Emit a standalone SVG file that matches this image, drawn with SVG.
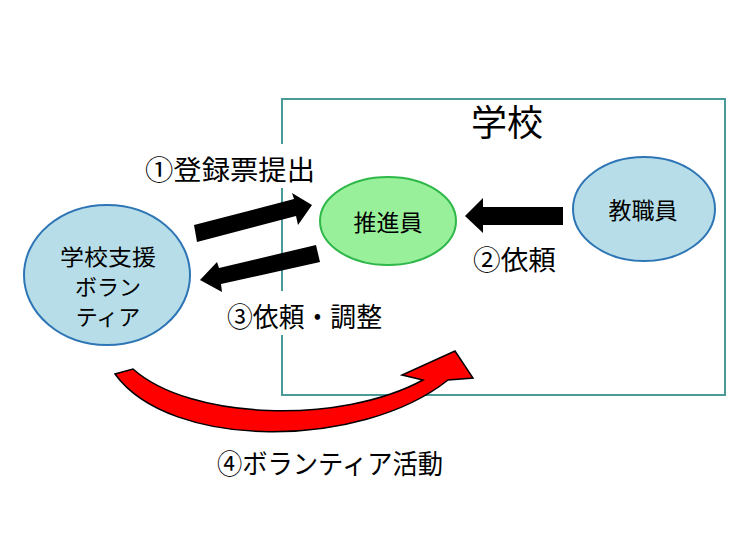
<svg xmlns="http://www.w3.org/2000/svg" width="740" height="555" viewBox="0 0 740 555">
<style>
text{font-family:"Noto Sans CJK JP","Noto Sans",sans-serif;fill:#000;}
.lbl{font-size:27px;}
.node{font-size:23px;text-anchor:middle;}
.vol{font-size:22px;text-anchor:middle;}
.blue{fill:#b7dee8;stroke:#2e75b6;stroke-width:2;}
.arr{fill:#000;}
</style>
<rect width="740" height="555" fill="#fff"/>
<g id="school">
<rect x="282" y="99" width="443" height="296" fill="none" stroke="#4a9a9a" stroke-width="2"/>
<text x="507" y="136" font-size="36" text-anchor="middle">学校</text>
</g>
<g id="label1">
<rect x="140" y="144" width="182" height="44" fill="#fff"/>
<text class="lbl" x="145" y="180" textLength="170" lengthAdjust="spacingAndGlyphs">①登録票提出</text>
</g>
<g id="label3">
<rect x="222" y="291" width="168" height="44" fill="#fff"/>
<text class="lbl" x="227" y="327" textLength="155" lengthAdjust="spacingAndGlyphs">③依頼・調整</text>
</g>
<g id="label2">
<text class="lbl" x="473" y="270" textLength="83" lengthAdjust="spacingAndGlyphs">②依頼</text>
</g>
<g id="label4">
<text class="lbl" x="217" y="474" textLength="226" lengthAdjust="spacingAndGlyphs">④ボランティア活動</text>
</g>
<g id="volunteer">
<ellipse class="blue" cx="107" cy="275" rx="83" ry="70"/>
<text class="vol" x="108" y="265" textLength="96" lengthAdjust="spacingAndGlyphs">学校支援</text>
<text class="vol" x="108" y="295">ボラン</text>
<text class="vol" x="108" y="325">ティア</text>
</g>
<g id="suishin">
<ellipse cx="388" cy="221" rx="68" ry="44" fill="#99f09a" stroke="#2eb84a" stroke-width="2"/>
<text class="node" x="388" y="231">推進員</text>
</g>
<g id="staff">
<ellipse class="blue" cx="644" cy="209" rx="71" ry="52"/>
<text class="node" x="643" y="219">教職員</text>
</g>
<g id="connectors">
<polygon class="arr" points="194,225 294,199 292,193 312,205 298,225 296,216 197,242"/>
<polygon class="arr" points="316,245 219,268 217,262 200,280 222,292 221,284 320,262"/>
<polygon class="arr" points="563,207 483,207 483,198 465,216 483,233 483,225 563,225"/>
<path d="M133,369 C190,420 340,425 423,380 L402,375 L455,351 L473,378 L448,380 C360,450 170,450 115,374 Z" fill="#ff0000" stroke="#000" stroke-width="1.5" stroke-linejoin="miter"/>
</g>
</svg>
